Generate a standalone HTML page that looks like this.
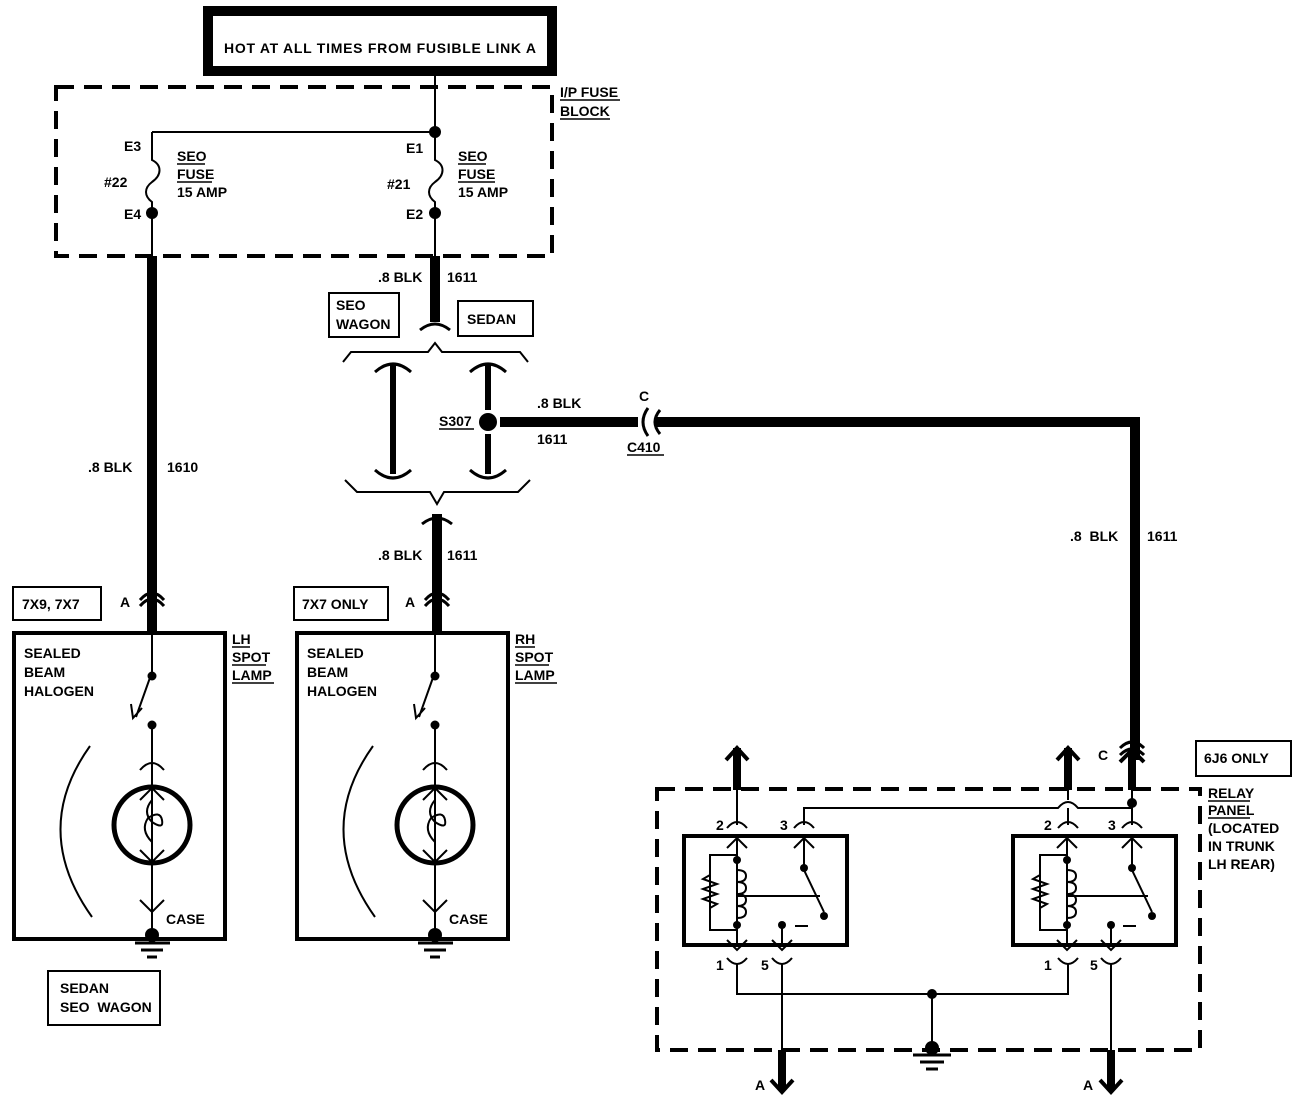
<!DOCTYPE html>
<html><head><meta charset="utf-8"><style>
html,body{margin:0;padding:0;background:#fff}
svg{display:block}
text{font-family:"Liberation Sans",sans-serif;font-weight:bold;font-size:14px;fill:#000}
</style></head><body>
<svg width="1312" height="1102" viewBox="0 0 1312 1102" xmlns="http://www.w3.org/2000/svg">
<g fill="none" stroke="#000">
<rect x="208" y="11" width="344" height="60" stroke-width="10"/>
<rect x="56" y="87" width="496" height="169" stroke-width="4" stroke-dasharray="18,10"/>
<path d="M435 71V132M152 132H435M152 132V160c10 5 10 15 0 22c-8 6-8 14 0 20V256M435 132V160c10 5 10 15 0 22c-8 6-8 14 0 20V256" stroke-width="2"/>
<path d="M152 256V632" stroke-width="10"/>
<path d="M140 600q12-14 24 0M140 606q12-14 24 0" stroke-width="3"/>
<path d="M435 256V322" stroke-width="10"/>
<path d="M420 330q15-12 30 0" stroke-width="3"/>
<path d="M343 362l8-10H428l7-9 7 9H520l8 10" stroke-width="2"/>
<path d="M393 364V474M488 364V410M488 434V474" stroke-width="6"/>
<path d="M375 372q18-16 36 0M470 372q18-16 36 0M375 470q18 16 36 0M470 470q18 16 36 0" stroke-width="3"/>
<path d="M345 480l12 12H430l7 12 7-12H518l12-12" stroke-width="2"/>
<path d="M437 514V632" stroke-width="10"/>
<path d="M422 524q15-12 30 0M425 600q12-14 24 0M425 606q12-14 24 0" stroke-width="3"/>
<path d="M500 422H638M655 422H1135V760" stroke-width="10"/>
<path d="M648 408q-10 14 0 28M660 410q-10 12 0 24" stroke-width="3"/>
<rect x="13" y="587" width="88" height="33" stroke-width="2"/>
<rect x="294" y="587" width="94" height="33" stroke-width="2"/>
<rect x="329" y="293" width="70" height="44" stroke-width="2"/>
<rect x="458" y="301" width="75" height="35" stroke-width="2"/>
<rect x="48" y="971" width="112" height="54" stroke-width="2"/>
<rect x="1196" y="741" width="95" height="35" stroke-width="2"/>
</g>
<circle cx="435" cy="132" r="6"/><circle cx="152" cy="213" r="6"/><circle cx="435" cy="213" r="6"/>
<circle cx="488" cy="422" r="9"/>

<g>
<g fill="none" stroke="#000">
<rect x="14" y="633" width="211" height="306" stroke-width="4"/>
<path d="M152 633V672M152 672L136 717M152 725V935" stroke-width="2"/>
<path d="M131 704l2 14 9-10" stroke-width="2"/>
<path d="M140 770q12-14 24 0" stroke-width="2"/>
<circle cx="152" cy="825" r="38" stroke-width="5"/>
<path d="M140 800l12-12 12 12M140 850l12 12 12-12M140 900l12 12 12-12" stroke-width="2"/>
<path d="M152 800q-10 12 0 22q12 8 10-2q-2-10-14-2q-8 12 4 24" stroke-width="2"/>
<path d="M90 746Q30 830 92 917" stroke-width="2"/>
<path d="M135 943H170M141 950H163M147 957H157" stroke-width="3"/>
</g>
<circle cx="152" cy="676" r="4.5"/><circle cx="152" cy="725" r="4.5"/><circle cx="152" cy="935" r="7"/>
</g>
<g transform="translate(283 0)">
<g fill="none" stroke="#000">
<rect x="14" y="633" width="211" height="306" stroke-width="4"/>
<path d="M152 633V672M152 672L136 717M152 725V935" stroke-width="2"/>
<path d="M131 704l2 14 9-10" stroke-width="2"/>
<path d="M140 770q12-14 24 0" stroke-width="2"/>
<circle cx="152" cy="825" r="38" stroke-width="5"/>
<path d="M140 800l12-12 12 12M140 850l12 12 12-12M140 900l12 12 12-12" stroke-width="2"/>
<path d="M152 800q-10 12 0 22q12 8 10-2q-2-10-14-2q-8 12 4 24" stroke-width="2"/>
<path d="M90 746Q30 830 92 917" stroke-width="2"/>
<path d="M135 943H170M141 950H163M147 957H157" stroke-width="3"/>
</g>
<circle cx="152" cy="676" r="4.5"/><circle cx="152" cy="725" r="4.5"/><circle cx="152" cy="935" r="7"/>
</g>

<g fill="none" stroke="#000">
<rect x="657" y="789" width="543" height="261" stroke-width="4" stroke-dasharray="18,10"/>
<path d="M737 760V825M1068 760V800M1132 760V825M1068 808V825" stroke-width="2"/>
<path d="M737 790V748M1068 790V748M1132 790V748" stroke-width="8"/>
<path d="M726 760l11-12 11 12M1057 760l11-12 11 12M1120 762l12-12 12 12" stroke-width="4"/>
<path d="M1120 748q12-12 24 0M1120 755q12-12 24 0" stroke-width="3"/>
<path d="M804 825V808H1058q10-12 20 0H1132" stroke-width="2"/>
<rect x="684" y="836" width="163" height="109" stroke-width="4"/>
<rect x="1013" y="836" width="163" height="109" stroke-width="4"/>
<path d="M727 828q10-12 20 0M794 828q10-12 20 0M1058 828q10-12 20 0M1122 828q10-12 20 0" stroke-width="2"/>
<path d="M727 958q10 12 20 0M772 958q10 12 20 0M1058 958q10 12 20 0M1101 958q10 12 20 0" stroke-width="2"/>
<path d="M737 964V994H1068V964M932 994V1048M782 964V1050M1111 964V1050" stroke-width="2"/>
<path d="M782 1050V1090M1111 1050V1090" stroke-width="8"/>
<path d="M771 1080l11 12 11-12M1100 1080l11 12 11-12" stroke-width="4"/>
<path d="M913 1055H951M920 1062H944M926 1069H938" stroke-width="3"/>
</g>
<g fill="none" stroke="#000" stroke-width="2">
<path d="M737 836V945M737 855H710V930H737M804 836V870L824 912M738 896H820M795 926H808M782 926V945"/>
<path d="M710 875l-7 4 14 5-14 5 14 5-14 5 14 5-7 4"/>
<path d="M737 870q9 0 9 6t-9 6q9 0 9 6t-9 6q9 0 9 6t-9 6q9 0 9 6t-9 6" />
<path d="M727 848l10-10 10 10M727 940l10 10 10-10M772 940l10 10 10-10M794 848l10-10 10 10"/>
</g>
<circle cx="737" cy="860" r="4"/><circle cx="737" cy="925" r="4"/><circle cx="804" cy="868" r="4"/><circle cx="824" cy="916" r="4"/><circle cx="782" cy="925" r="4"/>
<g transform="translate(330 0)">
<g fill="none" stroke="#000" stroke-width="2">
<path d="M737 836V945M737 855H710V930H737M802 836V870L822 912M738 896H818M793 926H806M781 926V945"/>
<path d="M710 875l-7 4 14 5-14 5 14 5-14 5 14 5-7 4"/>
<path d="M737 870q9 0 9 6t-9 6q9 0 9 6t-9 6q9 0 9 6t-9 6q9 0 9 6t-9 6" />
<path d="M727 848l10-10 10 10M727 940l10 10 10-10M771 940l10 10 10-10M792 848l10-10 10 10"/>
</g>
<circle cx="737" cy="860" r="4"/><circle cx="737" cy="925" r="4"/><circle cx="802" cy="868" r="4"/><circle cx="822" cy="916" r="4"/><circle cx="781" cy="925" r="4"/>
</g>
<circle cx="1132" cy="803" r="5"/><circle cx="932" cy="994" r="5"/><circle cx="932" cy="1048" r="7"/>

<text x="380" y="53" text-anchor="middle" font-size="16" textLength="312">HOT AT ALL TIMES FROM FUSIBLE LINK A</text>
<text x="560" y="97">I/P FUSE</text><text x="560" y="116">BLOCK</text>
<path d="M560 100H620M560 119H610" stroke="#000" stroke-width="1.5"/>
<text x="124" y="151">E3</text><text x="104" y="187">#22</text><text x="124" y="219">E4</text>
<text x="177" y="161">SEO</text><text x="177" y="179">FUSE</text><text x="177" y="197">15 AMP</text>
<path d="M177 164H205M177 182H212" stroke="#000" stroke-width="1.5"/>
<text x="406" y="153">E1</text><text x="387" y="189">#21</text><text x="406" y="219">E2</text>
<text x="458" y="161">SEO</text><text x="458" y="179">FUSE</text><text x="458" y="197">15 AMP</text>
<path d="M458 164H486M458 182H495" stroke="#000" stroke-width="1.5"/>
<text x="378" y="282">.8 BLK</text><text x="447" y="282">1611</text>
<text x="336" y="310">SEO</text><text x="336" y="329">WAGON</text>
<text x="467" y="324">SEDAN</text>
<text x="439" y="426">S307</text><path d="M439 429H474" stroke="#000" stroke-width="1.5"/>
<text x="537" y="408">.8 BLK</text><text x="537" y="444">1611</text>
<text x="639" y="401">C</text><text x="627" y="452">C410</text><path d="M627 455H664" stroke="#000" stroke-width="1.5"/>
<text x="88" y="472">.8 BLK</text><text x="167" y="472">1610</text>
<text x="378" y="560">.8 BLK</text><text x="447" y="560">1611</text>
<text x="1070" y="541">.8 &#160;BLK</text><text x="1147" y="541">1611</text>
<text x="22" y="609">7X9, 7X7</text><text x="302" y="609">7X7 ONLY</text>
<text x="120" y="607">A</text><text x="405" y="607">A</text>
<g><text x="24" y="658">SEALED</text><text x="24" y="677">BEAM</text><text x="24" y="696">HALOGEN</text><text x="166" y="924">CASE</text></g>
<g transform="translate(283 0)"><text x="24" y="658">SEALED</text><text x="24" y="677">BEAM</text><text x="24" y="696">HALOGEN</text><text x="166" y="924">CASE</text></g>
<text x="232" y="644">LH</text><text x="232" y="662">SPOT</text><text x="232" y="680">LAMP</text>
<path d="M232 647H250M232 665H266M232 683H274" stroke="#000" stroke-width="1.5"/>
<text x="515" y="644">RH</text><text x="515" y="662">SPOT</text><text x="515" y="680">LAMP</text>
<path d="M515 647H535M515 665H549M515 683H557" stroke="#000" stroke-width="1.5"/>
<text x="60" y="993">SEDAN</text><text x="60" y="1012">SEO &#160;WAGON</text>
<text x="1204" y="763">6J6 ONLY</text>
<text x="1208" y="798">RELAY</text><text x="1208" y="815">PANEL</text><text x="1208" y="833">(LOCATED</text><text x="1208" y="851">IN TRUNK</text><text x="1208" y="869">LH REAR)</text>
<path d="M1208 801H1250M1208 818H1250" stroke="#000" stroke-width="1.5"/>
<text x="1098" y="760">C</text>
<text x="716" y="830">2</text><text x="780" y="830">3</text><text x="1044" y="830">2</text><text x="1108" y="830">3</text>
<text x="716" y="970">1</text><text x="761" y="970">5</text><text x="1044" y="970">1</text><text x="1090" y="970">5</text>
<text x="755" y="1090">A</text><text x="1083" y="1090">A</text>
</svg>
</body></html>
